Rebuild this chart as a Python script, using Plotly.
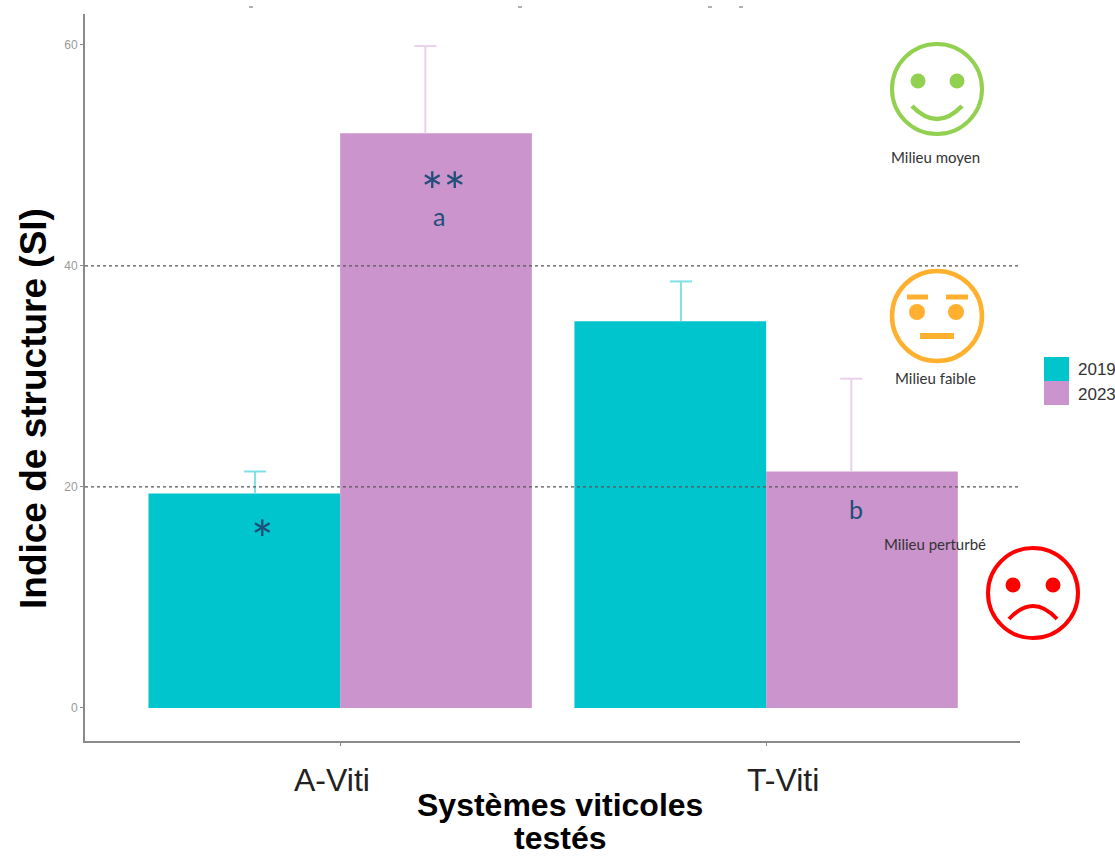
import plotly.graph_objects as go

W, H = 1115, 856
L, R, T, B = 85, 1020, 14, 741

categories = ["A-Viti", "T-Viti"]
category_pos = [0, 1]
years = ["2019", "2023"]
values_2019 = [19.4, 35.0]
values_2023 = [52.0, 21.4]
err_2019 = [2.0, 3.6]
err_2023 = [7.9, 8.4]
thresholds = [20, 40]
y_ticks = [0, 20, 40, 60]

TEAL = "#00C5CD"
MAUVE = "#CC94CC"
TEAL_ERR = "#7FE0E5"
MAUVE_ERR = "#EBD0EB"
NAVY = "#1F4E79"
SANS = "Liberation Sans, Arial, sans-serif"
LATO = "Lato, Carlito, sans-serif"
ERR_DODGE = 0.2   # error bars are dodged less than the bars, as in the source
CAP = 0.026


def px(x):
    return (x - L) / (R - L)


def py(y):
    return (B - y) / (B - T)


fig = go.Figure()
for name, vals, col in [(years[0], values_2019, TEAL), (years[1], values_2023, MAUVE)]:
    fig.add_bar(name=name, x=category_pos, y=vals, marker=dict(color=col, line_width=0),
                showlegend=False)

for name, vals, errs, ecol, sign in [
    (years[0], values_2019, err_2019, TEAL_ERR, -1),
    (years[1], values_2023, err_2023, MAUVE_ERR, 1),
]:
    ex, ey = [], []
    for c, v, e in zip(category_pos, vals, errs):
        xc = c + sign * ERR_DODGE
        ex += [xc, xc, None, xc - CAP, xc + CAP, None]
        ey += [v, v + e, None, v + e, v + e, None]
    fig.add_scatter(x=ex, y=ey, mode="lines", line=dict(color=ecol, width=2),
                    name=name + " erreur", showlegend=False, hoverinfo="skip")

shapes = []
for t in thresholds:
    shapes.append(dict(type="line", xref="paper", x0=0, x1=1, yref="y", y0=t, y1=t,
                       line=dict(color="#555555", width=1.3, dash="3px,3px"), layer="above"))


def circle(cx, cy, r, color, width=0, fill=None):
    return dict(type="circle", xref="paper", yref="paper",
                x0=px(cx - r), x1=px(cx + r), y0=py(cy + r), y1=py(cy - r),
                line=dict(color=color, width=width), fillcolor=fill or "rgba(0,0,0,0)",
                layer="above")


def curve(x0, y0, cx, cy, x1, y1, color, width):
    p = (f"M {px(x0):.5f} {py(y0):.5f} Q {px(cx):.5f} {py(cy):.5f} "
         f"{px(x1):.5f} {py(y1):.5f}")
    return dict(type="path", xref="paper", yref="paper", path=p,
                line=dict(color=color, width=width), layer="above")


def seg(x0, x1, y, color, width):
    return dict(type="line", xref="paper", yref="paper", x0=px(x0), x1=px(x1), y0=py(y), y1=py(y),
                line=dict(color=color, width=width), layer="above")


GREEN, ORANGE, RED = "#92D050", "#FFB02E", "#FF0000"
# happy face
shapes += [circle(937, 89, 45, GREEN, 4), circle(918, 81, 7.5, GREEN, 0, GREEN),
           circle(957, 81, 7.5, GREEN, 0, GREEN), curve(912, 106, 937, 132, 962, 106, GREEN, 4.5)]
# neutral face
shapes += [circle(937, 316, 45, ORANGE, 4.5), circle(917, 312, 8, ORANGE, 0, ORANGE),
           circle(956, 312, 8, ORANGE, 0, ORANGE),
           seg(907, 928, 297, ORANGE, 5), seg(946, 968, 297, ORANGE, 5),
           seg(920, 954, 336, ORANGE, 6)]
# sad face
shapes += [circle(1033, 593, 45, RED, 4), circle(1013, 585, 7.5, RED, 0, RED),
           circle(1053, 585, 7.5, RED, 0, RED), curve(1009, 619, 1033, 593, 1057, 619, RED, 4)]
# legend swatches
shapes += [
    dict(type="rect", xref="paper", yref="paper", x0=px(1044), x1=px(1069), y0=py(381), y1=py(357),
         fillcolor=TEAL, line_width=0),
    dict(type="rect", xref="paper", yref="paper", x0=px(1044), x1=px(1069), y0=py(405), y1=py(381),
         fillcolor=MAUVE, line_width=0),
]
# small specks at the top of the image
for sx0, sx1 in [(249, 253), (518, 522), (708, 712), (739, 743)]:
    shapes.append(seg(sx0, sx1, 7, "#999999", 1.5))


def note(x, y, text, size, color="#222222", family=SANS, anchor="center"):
    return dict(xref="paper", yref="paper", x=px(x), y=py(y), text=text, showarrow=False,
                xanchor=anchor, yanchor="middle", font=dict(size=size, color=color, family=family))


annotations = [
    note(443, 190, "**", 53, NAVY, LATO),
    note(262, 538, "*", 53, NAVY, LATO),
    note(439, 216, "a", 25, NAVY, LATO),
    note(856, 509, "b", 25, NAVY, LATO),
    note(935, 157, "Milieu moyen", 15, "#333333", LATO),
    note(935, 378, "Milieu faible", 15, "#333333", LATO),
    note(935, 544, "Milieu perturbé", 15, "#333333", LATO),
    note(1076, 369, years[0], 17, "#333333", SANS, "left"),
    note(1076, 394, years[1], 17, "#333333", SANS, "left"),
    note(332, 780, categories[0], 32, "#222222", SANS),
    note(783, 780, categories[1], 32, "#222222", SANS),
    note(560, 805, "<b>Systèmes viticoles</b>", 32, "#000000", SANS),
    note(560, 838, "<b>testés</b>", 32, "#000000", SANS),
]
annotations.append(dict(xref="paper", yref="paper", x=px(33), y=py(409), textangle=-90,
                        text="<b>Indice de structure (SI)</b>", showarrow=False,
                        xanchor="center", yanchor="middle",
                        font=dict(size=37, color="#000000", family=SANS)))

fig.update_layout(
    width=W, height=H, autosize=False,
    margin=dict(l=L, r=W - R, t=T, b=H - B, pad=0),
    paper_bgcolor="white", plot_bgcolor="white",
    barmode="group", bargap=0.1, bargroupgap=0,
    showlegend=False,
    shapes=shapes, annotations=annotations,
    xaxis=dict(range=[-0.599, 1.596], tickvals=category_pos, showticklabels=False,
               showgrid=False, zeroline=False, showline=True,
               linecolor="#8A8A8A", linewidth=2, ticks="outside", ticklen=3, tickcolor="#8A8A8A"),
    yaxis=dict(range=[-2.99, 62.8], tickvals=y_ticks, showgrid=False, zeroline=False, showline=True,
               linecolor="#8A8A8A", linewidth=2, ticks="outside", ticklen=3, tickcolor="#8A8A8A",
               tickfont=dict(size=12, color="#999999", family=SANS)),
)
fig.write_html(
    "out.html",
    config={"displayModeBar": False},
    post_script="document.body.style.margin='0';document.body.style.overflow='hidden';"
                "document.documentElement.style.overflow='hidden';",
)
